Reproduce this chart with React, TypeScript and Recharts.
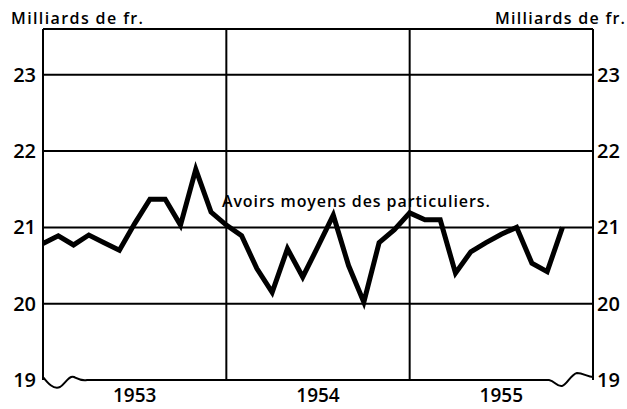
import React from 'react';
import { LineChart, Line, XAxis, YAxis, CartesianGrid, ReferenceLine, ReferenceDot } from 'recharts';

// Monthly average holdings, Jan 1953 .. Nov 1955 (milliards de fr.)
const years = ['1953', '1954', '1955'];
const yearTickMonths = [6, 18, 30];
const yearBoundaryMonths = [12, 24];
const values = [
  20.79, 20.89, 20.77, 20.9, 20.8, 20.7, 21.05, 21.37, 21.37, 21.03, 21.76, 21.2,
  21.03, 20.89, 20.46, 20.15, 20.72, 20.35, 20.75, 21.16, 20.5, 20.02, 20.8, 20.97,
  21.19, 21.1, 21.1, 20.4, 20.68, 20.8, 20.91, 21.0, 20.53, 20.42, 21.0,
];
const yTicks = [19, 20, 21, 22, 23];
const yMin = 19;
const yMax = 23.6;
const unitLabel = 'Milliards de fr.';
const seriesLabel = 'Avoirs moyens des particuliers.';
const seriesLabelPos = { m: 11.71, v: 21.27 };

const data = values.map((v, i) => ({ m: i, v }));

const FONT = '"Open Sans", "DejaVu Sans", sans-serif';

const BrokenBaseline = (props: any) => {
  const { x1, x2, y1 } = props;
  const y = y1;
  const d = [
    `M ${x1} ${y - 3}`,
    `C ${x1 + 4} ${y + 2}, ${x1 + 10} ${y + 10}, ${x1 + 17} ${y + 7}`,
    `C ${x1 + 22} ${y + 4}, ${x1 + 26} ${y - 5}, ${x1 + 31} ${y - 3}`,
    `C ${x1 + 35} ${y - 1}, ${x1 + 38} ${y + 1}, ${x1 + 44} ${y}`,
    `L ${x2 - 44} ${y}`,
    `C ${x2 - 38} ${y + 1}, ${x2 - 36} ${y + 7}, ${x2 - 31} ${y + 6}`,
    `C ${x2 - 26} ${y + 5}, ${x2 - 22} ${y - 6}, ${x2 - 16} ${y - 7}`,
    `C ${x2 - 10} ${y - 7}, ${x2 - 5} ${y - 3}, ${x2} ${y - 3}`,
  ].join(' ');
  return <path d={d} stroke="#000" strokeWidth={2} fill="none" />;
};

const SeriesLabel = (props: any) => {
  const vb = props.viewBox || {};
  return (
    <text
      x={vb.x}
      y={vb.y}
      textAnchor="start"
      fontFamily={FONT}
      fontSize={16}
      fontWeight={600}
      fill="#000"
      textLength={268}
      lengthAdjust="spacing"
    >
      {seriesLabel}
    </text>
  );
};

const tickStyle = { fill: '#000', fontSize: 20, fontFamily: FONT, fontWeight: 600 };

export default function App() {
  return (
    <div style={{ position: 'absolute', left: 0, top: 0, width: 627, height: 409, background: '#fff' }}>
      <svg width={627} height={30} style={{ position: 'absolute', left: 0, top: 0 }}>
        <text x={11} y={24} fontFamily={FONT} fontSize={16} fontWeight={600} fill="#000" textLength={132} lengthAdjust="spacing">
          {unitLabel}
        </text>
        <text x={495} y={24} fontFamily={FONT} fontSize={16} fontWeight={600} fill="#000" textLength={130} lengthAdjust="spacing">
          {unitLabel}
        </text>
      </svg>
      <LineChart
        width={627}
        height={409}
        data={data}
        margin={{ top: 29, right: 0, bottom: 0, left: 0 }}
      >
        <CartesianGrid
          yAxisId="left"
          stroke="#000"
          strokeWidth={2}
          horizontalValues={[20, 21, 22, 23, yMax]}
          verticalValues={yearBoundaryMonths}
        />
        <XAxis
          dataKey="m"
          type="number"
          domain={[0, 36]}
          ticks={yearTickMonths}
          tickFormatter={(t: number) => years[Math.round((t - 6) / 12)]}
          axisLine={false}
          tickLine={false}
          tickSize={0}
          tickMargin={9}
          height={29}
          interval={0}
          tick={{ ...tickStyle, fontSize: 19 }}
        />
        <YAxis
          yAxisId="left"
          orientation="left"
          type="number"
          domain={[yMin, yMax]}
          ticks={yTicks}
          width={43}
          tickLine={false}
          tickSize={0}
          tickMargin={7}
          axisLine={{ stroke: '#000', strokeWidth: 2 }}
          interval={0}
          tick={tickStyle}
          allowDataOverflow
        />
        <YAxis
          yAxisId="right"
          orientation="right"
          type="number"
          domain={[yMin, yMax]}
          ticks={yTicks}
          width={34}
          tickLine={false}
          tickSize={0}
          tickMargin={4}
          axisLine={{ stroke: '#000', strokeWidth: 2 }}
          interval={0}
          tick={tickStyle}
          allowDataOverflow
        />
        <ReferenceLine yAxisId="left" y={yMin} shape={BrokenBaseline} />
        <ReferenceDot
          yAxisId="left"
          x={seriesLabelPos.m}
          y={seriesLabelPos.v}
          r={0}
          fill="none"
          stroke="none"
          label={<SeriesLabel />}
        />
        <Line
          yAxisId="left"
          dataKey="v"
          stroke="#000"
          strokeWidth={5}
          strokeLinejoin="miter"
          dot={false}
          isAnimationActive={false}
          type="linear"
        />
      </LineChart>
    </div>
  );
}
